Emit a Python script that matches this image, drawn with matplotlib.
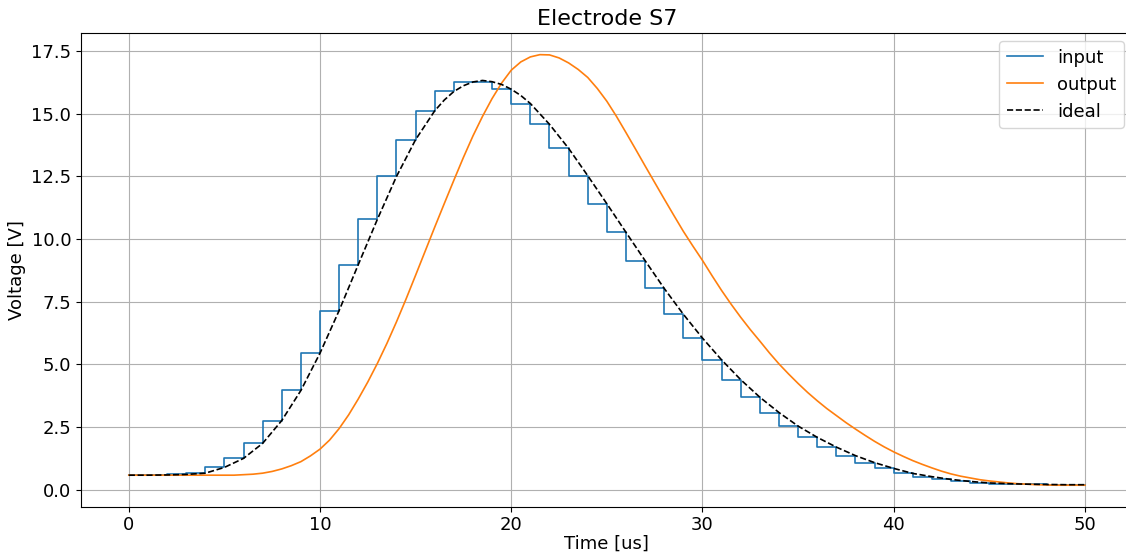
import matplotlib
matplotlib.use("Agg")
import matplotlib.pyplot as plt

# input: ideal waveform sampled each microsecond and held
t_in = list(range(0, 51))
input_v = [0.58, 0.58, 0.59, 0.61, 0.66, 0.89, 1.25, 1.85, 2.76, 3.96,
           5.45, 7.15, 8.98, 10.79, 12.50, 13.97, 15.12, 15.89, 16.27, 16.28,
           15.98, 15.41, 14.58, 13.62, 12.53, 11.41, 10.27, 9.14, 8.03, 7.00,
           6.05, 5.18, 4.39, 3.69, 3.08, 2.54, 2.09, 1.70, 1.36, 1.08,
           0.85, 0.65, 0.52, 0.41, 0.33, 0.27, 0.24, 0.22, 0.21, 0.20,
           0.20]

# ideal curve (extra points near the peak)
t_ideal = [0, 1, 2, 3, 4, 5, 6, 7, 8, 9, 10, 11, 12, 13, 14, 15, 16, 16.5, 17,
           17.5, 18, 18.5, 19, 19.5, 20, 20.5, 21, 22, 23, 24, 25, 26, 27, 28,
           29, 30, 31, 32, 33, 34, 35, 36, 37, 38, 39, 40, 41, 42, 43, 44, 45,
           46, 47, 48, 49, 50]
ideal_v = [0.58, 0.58, 0.59, 0.61, 0.66, 0.89, 1.25, 1.85, 2.76, 3.96,
           5.45, 7.15, 8.98, 10.79, 12.50, 13.97, 15.12, 15.55, 15.89,
           16.12, 16.27, 16.33, 16.28, 16.17, 15.98, 15.73, 15.41, 14.58,
           13.62, 12.53, 11.41, 10.27, 9.14, 8.03, 7.00, 6.05, 5.18, 4.39,
           3.69, 3.08, 2.54, 2.09, 1.70, 1.36, 1.08, 0.85, 0.65, 0.52, 0.41,
           0.33, 0.27, 0.24, 0.22, 0.21, 0.20, 0.20]

# measured output, every 0.5 us
t_out = [i * 0.5 for i in range(101)]
output_v = [0.58, 0.58, 0.58, 0.58, 0.58, 0.58, 0.58, 0.58, 0.58, 0.58,
            0.58, 0.58, 0.60, 0.62, 0.66, 0.73, 0.83, 0.96, 1.12, 1.35,
            1.62, 1.98, 2.44, 2.99, 3.62, 4.30, 5.04, 5.84, 6.70, 7.61,
            8.56, 9.52, 10.48, 11.42, 12.35, 13.26, 14.12, 14.90, 15.61, 16.23,
            16.74, 17.07, 17.27, 17.36, 17.35, 17.23, 17.03, 16.77, 16.45, 16.01,
            15.50, 14.90, 14.25, 13.59, 12.92, 12.26, 11.60, 10.95, 10.31, 9.72,
            9.15, 8.54, 7.95, 7.40, 6.88, 6.39, 5.93, 5.46, 5.02, 4.62,
            4.24, 3.88, 3.55, 3.24, 2.96, 2.68, 2.42, 2.17, 1.93, 1.71,
            1.51, 1.33, 1.16, 1.01, 0.87, 0.74, 0.63, 0.54, 0.47, 0.40,
            0.35, 0.31, 0.27, 0.24, 0.22, 0.20, 0.19, 0.18, 0.18, 0.18,
            0.18]

fig, ax = plt.subplots(figsize=(11.26, 5.52), dpi=100)
# the original is cropped on the right, so the axes run past the edge
fig.subplots_adjust(left=0.0719, right=1.006, bottom=0.082, top=0.94)

ax.plot(t_in, input_v, drawstyle="steps", color="#1f77b4", lw=1.2, label="input")
ax.plot(t_out, output_v, color="#ff7f0e", lw=1.2, label="output")
ax.plot(t_ideal, ideal_v, "k--", lw=1.2, label="ideal")

ax.set_title("Electrode S7", fontsize=16)
ax.set_xlabel("Time [us]", fontsize=13, labelpad=0.5)
ax.set_ylabel("Voltage [V]", fontsize=13)
ax.tick_params(labelsize=13)
ax.grid(True, color="#b0b0b0", lw=0.8)
ax.legend(loc="upper right", fontsize=13, bbox_to_anchor=(0.998, 0.925),
          bbox_transform=fig.transFigure, borderaxespad=0)

fig.savefig("out.png", dpi=100)
